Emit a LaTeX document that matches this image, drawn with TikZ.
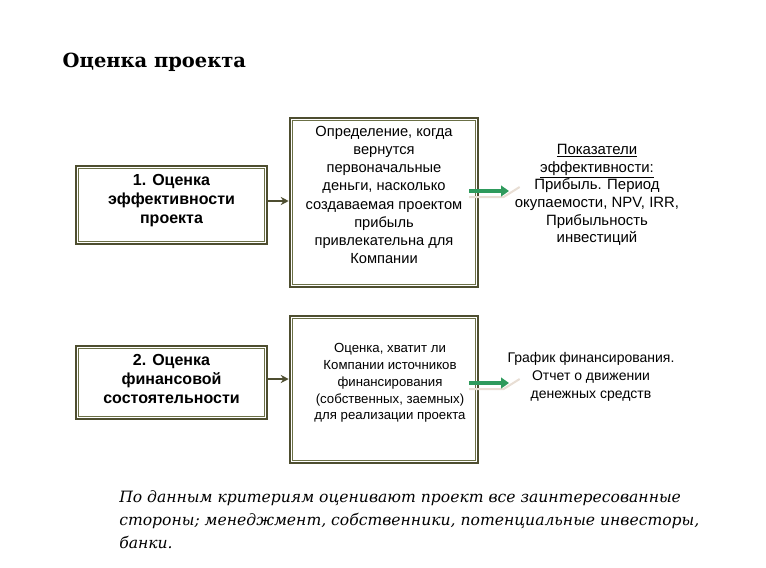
\documentclass[tikz,border=0pt]{standalone}
\usepackage{fontspec}
\setmainfont{Liberation Sans}
\newfontfamily\titlefont{DejaVu Serif}
\newfontfamily\notefont{DejaVu Serif}
\usetikzlibrary{arrows.meta}
\definecolor{olivebox}{HTML}{4E4E30}
\definecolor{oliveinner}{HTML}{6B7046}
\definecolor{greenarr}{HTML}{2E9A5C}
\definecolor{shadowc}{HTML}{E8DED4}
\tikzset{
  frame/.style={draw=olivebox, line width=1.9pt, fill=white, inner sep=0pt},
  inner/.style={draw=oliveinner, line width=0.6pt},
  lefttext/.style={align=center, font=\bfseries\fontsize{12}{14.3}\selectfont},
  midtext/.style={align=center, font=\fontsize{11}{13.6}\selectfont},
  conn/.style={draw=olivebox, line width=1.1pt, -{Stealth[length=6pt,width=6pt]}},
  greenarrow/.style={draw=greenarr, line width=2.8pt, -{Triangle[length=6pt,width=8pt]}},
  shadowarrow/.style={draw=shadowc, line width=1.5pt},
}
\begin{document}
\begin{tikzpicture}[x=0.75pt,y=-0.75pt]
\useasboundingbox (0,0) rectangle (766,567);
\node[anchor=west, font=\titlefont\bfseries\fontsize{14.6}{18}\selectfont] (title) at (58,62) {Оценка проекта};

% frames
\node[frame, minimum width=191*0.75pt, minimum height=78*0.75pt] (b1) at (171.5,205) {};
\node[frame, minimum width=188*0.75pt, minimum height=169*0.75pt] (b2) at (384,202.5) {};
\node[frame, minimum width=191*0.75pt, minimum height=73*0.75pt] (b3) at (171.5,382.5) {};
\node[frame, minimum width=188*0.75pt, minimum height=147*0.75pt] (b4) at (384,389.5) {};
\foreach \b in {b1,b2,b3,b4}{
  \draw[inner] ([shift={(3.5,3.5)}]\b.north west) rectangle ([shift={(-3.5,-3.5)}]\b.south east);
}

% texts
\node[lefttext] (b1t) at (171.5,201) {1. Оценка\\эффективности\\проекта};
\node[midtext] (b2t) at (384,195) {Определение, когда\\вернутся\\первоначальные\\деньги, насколько\\создаваемая проектом\\прибыль\\привлекательна для\\Компании};
\node[lefttext] (b3t) at (171.5,379) {2. Оценка\\финансовой\\состоятельности};
\node[align=center, font=\fontsize{9.9}{12.6}\selectfont] (b4t) at (390,383) {Оценка, хватит ли\\Компании источников\\финансирования\\(собственных, заемных)\\для реализации проекта};

\node[align=center, font=\fontsize{11.2}{13.2}\selectfont] (t1) at (597,195) {\underline{Показатели}\\\underline{эффективности:}\\Прибыль. Период\\окупаемости, NPV, IRR,\\Прибыльность\\инвестиций};
\node[align=center, font=\fontsize{10.5}{13.5}\selectfont] (t2) at (591,377) {График финансирования.\\Отчет о движении\\денежных средств};

\draw[conn] (b1.east |- b1t) -- (b1t -| b2.west);
\draw[conn] (b3.east |- b3t) -- (b3t -| b4.west);

\coordinate (g1s) at (469,191);
\coordinate (g1e) at (509,191);
\coordinate (g2s) at (469,383);
\coordinate (g2e) at (509,383);
\draw[shadowarrow] ([yshift=-4.5]g1s) -- ([xshift=-4,yshift=-4.5]g1e) -- ([xshift=8,yshift=3]g1e);
\draw[shadowarrow] ([yshift=-4.5]g2s) -- ([xshift=-4,yshift=-4.5]g2e) -- ([xshift=8,yshift=3]g2e);
\draw[greenarrow] (g1s) -- (g1e);
\draw[greenarrow] (g2s) -- (g2e);

\node[anchor=north west, align=left, font=\notefont\itshape\fontsize{11.7}{17.3}\selectfont, inner sep=0pt] (note) at (119,490) {По данным критериям оценивают проект все заинтересованные\\стороны; менеджмент, собственники, потенциальные инвесторы,\\банки.};
\end{tikzpicture}
\end{document}
